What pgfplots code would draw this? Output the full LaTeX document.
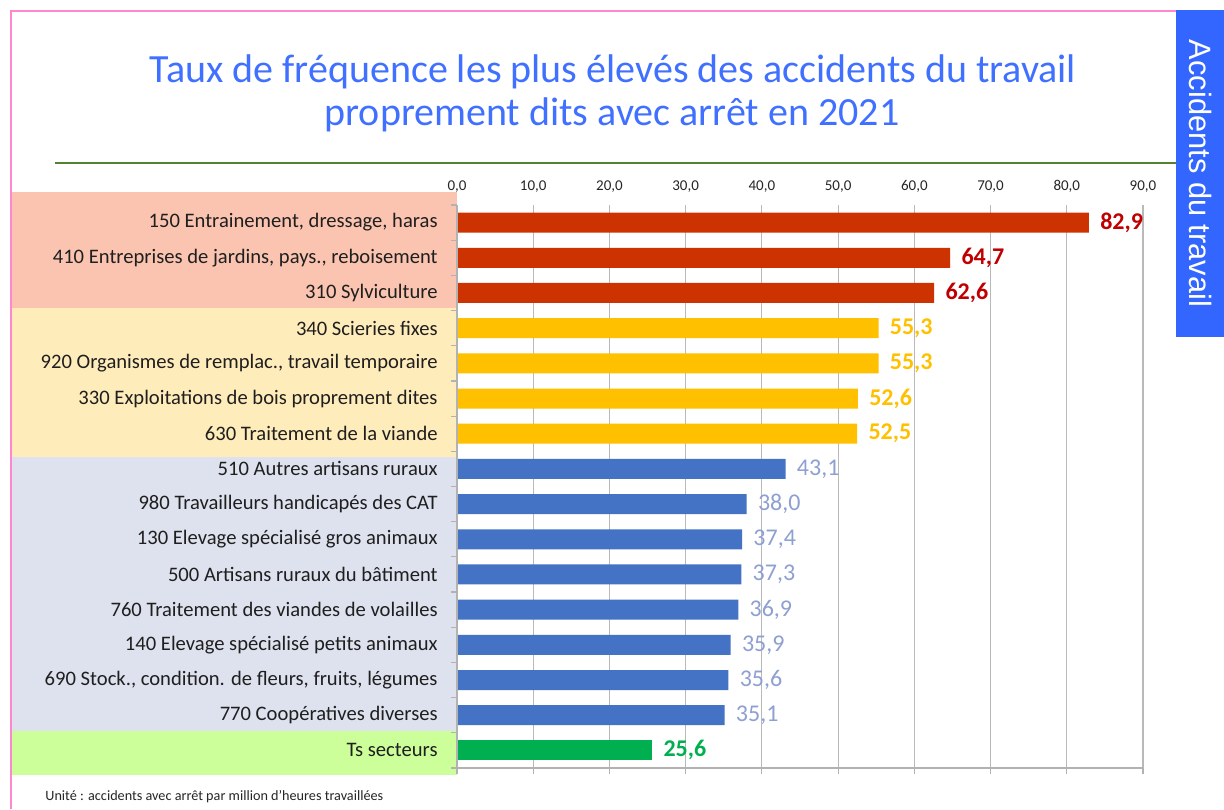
\documentclass[border=0pt]{standalone}
\usepackage{pgfplots}
\pgfplotsset{compat=1.18}
\usepackage{fontspec}
\setmainfont{Carlito}
\newfontfamily\arialfont{Liberation Sans}
\definecolor{redbar}{RGB}{204,51,0}
\definecolor{redlab}{RGB}{192,0,0}
\definecolor{yelbar}{RGB}{255,192,0}
\definecolor{bluebar}{RGB}{68,114,196}
\definecolor{bluelab}{RGB}{142,160,210}
\definecolor{grnbar}{RGB}{0,176,80}
\definecolor{bandpink}{RGB}{251,196,176}
\definecolor{bandyel}{RGB}{255,236,187}
\definecolor{bandgray}{RGB}{222,226,238}
\definecolor{bandgrn}{RGB}{204,255,153}
\definecolor{pinkline}{RGB}{255,136,204}
\definecolor{greenline}{RGB}{84,130,53}
\definecolor{bluebox}{RGB}{51,102,255}
\definecolor{titleblue}{RGB}{64,112,255}
\begin{document}
\begin{tikzpicture}
\path[use as bounding box] (0,0) rectangle (612pt,-404.5pt);
\begin{scope}[x=0.5pt,y=-0.5pt]
 \fill[white] (0,0) rectangle (1224,809);
 \draw[pinkline, line width=1.1pt] (11,809) -- (11,11) -- (1176,11);
 \fill[bandpink] (12,192) rectangle (457,308);
 \fill[bandyel] (12,308) rectangle (457,457);
 \fill[bandgray] (12,457) rectangle (457,731);
 \fill[bandgrn] (12,731) rectangle (457,775);
 \draw[greenline, line width=1.3pt] (55,163) -- (1176,163);
 \fill[bluebox] (1176,10) rectangle (1224,337);
 \node[rotate=-90, white, font=\arialfont\fontsize{15.4}{18}\selectfont] at (1200,173.5) {Accidents du travail};
 \node[anchor=base, text=titleblue, font=\fontsize{20}{24}\selectfont] at (613,82.3) {Taux de fréquence les plus élevés des accidents du travail};
 \node[anchor=base, text=titleblue, font=\fontsize{20}{24}\selectfont] at (612,125) {proprement dits avec arrêt en 2021};
 \node[anchor=base west, inner sep=0pt, text=black!85, font=\fontsize{7.1}{8.5}\selectfont] at (45,800) {Unité : accidents avec arrêt par million d'heures travaillées};
\end{scope}
\begin{axis}[
  at={(228.5pt,-102.5pt)}, anchor=north west,
  scale only axis, width=343pt, height=281.5pt,
  xmin=0, xmax=90, ymin=-0.5, ymax=15.5, y dir=reverse,
  xbar, bar width=10pt, bar shift=0pt,
  axis line style={draw=none},
  xtick={0,10,...,90},
  xtick pos=bottom, xticklabel pos=top, ytick pos=left,
  minor xtick={0,10,...,90},
  ytick={0,...,15},
  minor ytick={-0.5,0.5,...,15.5},
  major tick length=0pt, minor tick length=3pt, tick align=outside,
  tick style={gray!60, line width=0.6pt},
  xmajorgrids, major grid style={gray!55, line width=0.6pt},
  yticklabels={{150 Entrainement, dressage, haras},{410 Entreprises de jardins, pays., reboisement},{310 Sylviculture},{340 Scieries fixes},{920 Organismes de remplac., travail temporaire},{330 Exploitations de bois proprement dites},{630 Traitement de la viande},{510 Autres artisans ruraux},{980 Travailleurs handicapés des CAT},{130 Elevage spécialisé gros animaux},{500 Artisans ruraux du bâtiment},{760 Traitement des viandes de volailles},{140 Elevage spécialisé petits animaux},{690 Stock., condition. de fleurs, fruits, légumes},{770 Coopératives diverses},{Ts secteurs}},
  yticklabel style={font=\fontsize{10.3}{12}\selectfont, text=black!88, inner sep=0pt, xshift=-9.5pt},
  xticklabel style={font=\fontsize{7.5}{9}\selectfont, text=black!85, inner sep=0pt, yshift=6pt},
  /pgf/number format/.cd, fixed, fixed zerofill, precision=1, use comma, assume math mode=true,
  /pgfplots/.cd,
  point meta=x,
  nodes near coords={\pgfmathprintnumber[fixed,fixed zerofill,precision=1,use comma,assume math mode=true]{\pgfplotspointmeta}},
  every node near coord/.append style={inner sep=0pt, xshift=5.5pt, font=\fontsize{12}{14}\selectfont},
  clip=false,
]
\addplot[fill=redbar, draw=none, every node near coord/.append style={text=redlab, font=\bfseries\fontsize{12}{14}\selectfont}] coordinates {(82.9,0) (64.7,1) (62.6,2)};
\addplot[fill=yelbar, draw=none, every node near coord/.append style={text=yelbar, font=\bfseries\fontsize{12}{14}\selectfont}] coordinates {(55.3,3) (55.3,4) (52.6,5) (52.5,6)};
\addplot[fill=bluebar, draw=none, every node near coord/.append style={text=bluelab}] coordinates {(43.1,7) (38.0,8) (37.4,9) (37.3,10) (36.9,11) (35.9,12) (35.6,13) (35.1,14)};
\addplot[fill=grnbar, draw=none, every node near coord/.append style={text=grnbar, font=\bfseries\fontsize{12}{14}\selectfont}] coordinates {(25.6,15)};
\draw[gray!60, line width=0.6pt] (axis cs:0,-0.5) -- (axis cs:0,15.5) -- (axis cs:90,15.5);
\end{axis}
\end{tikzpicture}
\end{document}
